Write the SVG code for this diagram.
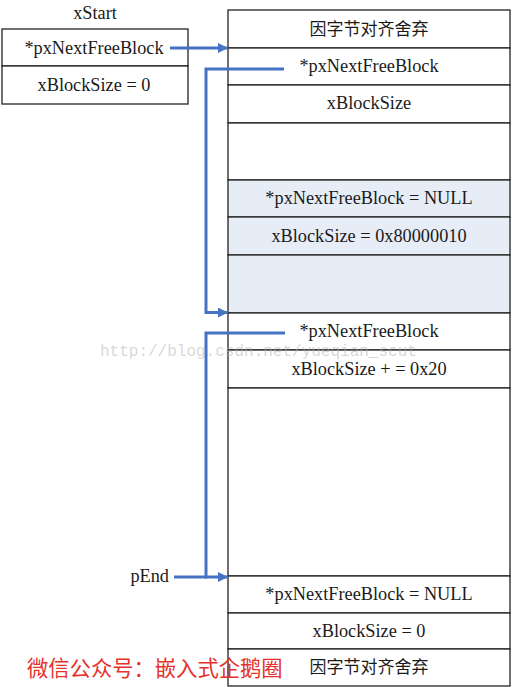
<svg xmlns="http://www.w3.org/2000/svg" width="512" height="687" viewBox="0 0 512 687">
<style>
.t{font-family:"Liberation Serif","Times New Roman",serif;font-size:18.3px;fill:#1a1a1a;text-anchor:middle}
.c{font-family:"Noto Sans CJK SC",sans-serif;font-size:17px;fill:#1a1a1a;text-anchor:middle}
.cell{fill:#ffffff;stroke:#222;stroke-width:1.3}
.blue{fill:#e7edf7;stroke:#222;stroke-width:1.3}
.conn{fill:none;stroke:#4472c4;stroke-width:3}
</style>
<defs>
<marker id="ah" markerWidth="10" markerHeight="10" refX="10" refY="5" orient="auto" markerUnits="userSpaceOnUse">
<path d="M0,0 L10,5 L0,10 z" fill="#4472c4"/>
</marker>
</defs>
<rect width="512" height="687" fill="#ffffff"/>
<g id="xStart">
<text class="t" x="95" y="19">xStart</text>
<rect class="cell" x="2" y="29" width="186" height="37"/>
<rect class="cell" x="2" y="66" width="186" height="38"/>
<text class="t" x="94" y="54">*pxNextFreeBlock</text>
<text class="t" x="94" y="91">xBlockSize = 0</text>
</g>
<g id="heap">
<rect class="cell" x="228" y="10" width="282" height="38"/>
<text class="c" x="369" y="35">因字节对齐舍弃</text>
<rect class="cell" x="228" y="48" width="282" height="37"/>
<text class="t" x="369" y="72">*pxNextFreeBlock</text>
<rect class="cell" x="228" y="85" width="282" height="38"/>
<text class="t" x="369" y="109">xBlockSize</text>
<rect class="cell" x="228" y="123" width="282" height="57"/>
</g>
<g id="usedBlock">
<rect class="blue" x="228" y="180" width="282" height="37"/>
<text class="t" x="369" y="204">*pxNextFreeBlock = NULL</text>
<rect class="blue" x="228" y="217" width="282" height="38"/>
<text class="t" x="369" y="242">xBlockSize = 0x80000010</text>
<rect class="blue" x="228" y="255" width="282" height="58"/>
</g>
<g id="freeBlock">
<rect class="cell" x="228" y="313" width="282" height="37"/>
<text class="t" x="369" y="337">*pxNextFreeBlock</text>
<rect class="cell" x="228" y="350" width="282" height="38"/>
<text class="t" x="369" y="375">xBlockSize + = 0x20</text>
<rect class="cell" x="228" y="388" width="282" height="188"/>
</g>
<g id="pEnd">
<text x="169" y="582" font-family="Liberation Serif,serif" font-size="18.3" fill="#1a1a1a" text-anchor="end">pEnd</text>
<rect class="cell" x="228" y="576" width="282" height="37"/>
<text class="t" x="369" y="600">*pxNextFreeBlock = NULL</text>
<rect class="cell" x="228" y="613" width="282" height="36"/>
<text class="t" x="369" y="637">xBlockSize = 0</text>
<rect class="cell" x="228" y="649" width="282" height="37"/>
<text class="c" x="369" y="673">因字节对齐舍弃</text>
</g>
<g id="connectors">
<path class="conn" d="M170,48 H228" marker-end="url(#ah)"/>
<path class="conn" d="M284,69 H206 V312.5 H228" marker-end="url(#ah)"/>
<path class="conn" d="M285,333 H206 V577 H228" marker-end="url(#ah)"/>
<path class="conn" d="M174,577 H207"/>
</g>
<text x="100" y="356" font-family="Liberation Mono,monospace" font-size="16" fill="#b0b0b0" fill-opacity="0.5">http://blog.csdn.net/yueqian_scut</text>
<text x="27" y="676" font-family="Noto Sans CJK SC,sans-serif" font-size="21.3" fill="#e5322d">微信公众号：嵌入式企鹅圈</text>
</svg>
